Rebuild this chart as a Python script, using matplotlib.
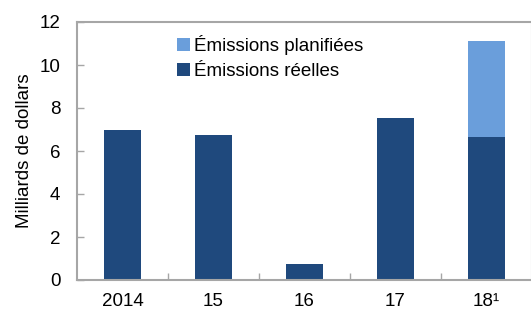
import matplotlib as mpl
import matplotlib.pyplot as plt
import numpy as np

# data (billions of dollars)
years = ['2014', '15', '16', '17', '18¹']
reelles = [7.0, 6.75, 0.73, 7.55, 6.67]
planifiees = [0.0, 0.0, 0.0, 0.0, 4.45]

mpl.rcParams['font.family'] = ['Liberation Sans', 'DejaVu Sans']

dark = '#1F497D'
light = '#6A9EDB'
grey = '#A6A6A6'

fig = plt.figure(figsize=(5.31, 3.12), dpi=100)
ax = fig.add_axes([77 / 531, 1 - 280 / 312, 455 / 531, 258 / 312])

x = np.arange(len(years))
ax.bar(x, reelles, width=0.4, color=dark, label='Émissions réelles', zorder=2)
ax.bar(x, planifiees, width=0.4, bottom=reelles, color=light,
       label='Émissions planifiées', zorder=2)

ax.set_xlim(-0.5, 4.5)
ax.set_ylim(0, 12)
ax.set_yticks(range(0, 13, 2))
ax.set_xticks(x)
ax.set_xticklabels(years)
ax.set_xticks(np.arange(0.5, 4.5, 1), minor=True)

for s in ax.spines.values():
    s.set_color(grey)
    s.set_linewidth(1.5)

ax.tick_params(axis='y', direction='in', length=5, width=1, color=grey,
               labelsize=13.5, pad=12)
ax.tick_params(axis='x', which='major', length=0, labelsize=13.5, pad=9.5)
ax.tick_params(axis='x', which='minor', direction='in', length=5, width=1, color=grey)

ax.set_ylabel('Milliards de dollars', fontsize=13.5, labelpad=5)

handles, labels = ax.get_legend_handles_labels()
ax.legend(handles[::-1], labels[::-1], loc='upper left', bbox_to_anchor=(0.19, 1.0),
          frameon=False, fontsize=13.5, handlelength=0.7, handleheight=0.7,
          handletextpad=0.25, labelspacing=0.4, borderaxespad=0.3)

fig.savefig('out.png', dpi=100)
